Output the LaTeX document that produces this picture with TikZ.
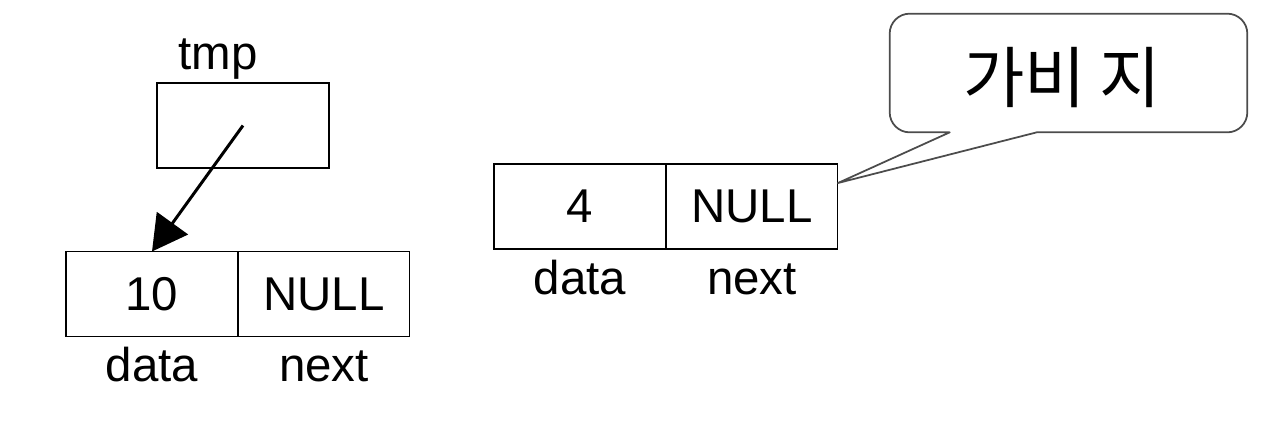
\documentclass[tikz,border=0pt]{standalone}
\usepackage{fontspec}
\setmainfont{Liberation Sans}
\newfontfamily\kofont{Noto Sans CJK KR}
\usetikzlibrary{arrows.meta, positioning, calc}
\tikzset{
    cell/.style={
        rectangle,
        draw=black,
        line width=0.6pt,
        minimum width=3.44cm,
        minimum height=1.7cm,
        inner sep=0pt,
        outer sep=0pt,
        font=\fontsize{27}{32}\selectfont
    },
    field/.style={
        inner sep=0pt,
        text height=20pt,
        text depth=5.5pt,
        font=\fontsize{27}{32}\selectfont
    },
    pointer/.style={
        draw=black,
        line width=1.7pt,
        -{Triangle[length=0.7cm, width=0.76cm]}
    },
    bubble/.style={
        rectangle,
        minimum width=7.14cm,
        minimum height=2.36cm,
        inner sep=0pt
    },
    bubbletext/.style={
        inner sep=0pt,
        font=\kofont\fontsize{38}{44}\selectfont
    },
    callout/.style={
        draw=black!70,
        line width=1pt,
        line join=round
    }
}

\begin{document}
\begin{tikzpicture}[x=0.02cm, y=0.02cm]
\useasboundingbox (0,0) rectangle (1282,-424);

% tmp pointer
\node[cell] (tmpbox) at (243,-125.5) {};
\node[field, above=0.07cm of tmpbox, xshift=-0.5cm] (tmp) {tmp};

% first node: 10 / NULL
\node[cell] (d1) at (152,-294) {10};
\node[cell, right=0cm of d1] (n1) {NULL};
\node[field, below=0.2cm of d1] (d1lbl) {data};
\node[field, below=0.2cm of n1] (n1lbl) {next};

\draw[pointer] (tmpbox.center) -- (d1.north);

% second node: 4 / NULL
\node[cell] (d2) at (580,-206.5) {4};
\node[cell, right=0cm of d2] (n2) {NULL};
\node[field, below=0.2cm of d2] (d2lbl) {data};
\node[field, below=0.2cm of n2] (n2lbl) {next};

% garbage callout
\node[bubble] (garb) at (1068.5,-73) {};
\node[bubbletext] (garbtxt) at (1062,-78) {가비\hspace{0.2em}지};
\coordinate (tip) at ($(n2.north east)+(0,-19)$);
\draw[callout] (tip) -- ($(garb.south west)+(60,0)$)
    [rounded corners=0.4cm] -- (garb.south west) -- (garb.north west)
    -- (garb.north east) -- (garb.south east)
    [sharp corners] -- ($(garb.south west)+(147,0)$) -- cycle;

\end{tikzpicture}
\end{document}
